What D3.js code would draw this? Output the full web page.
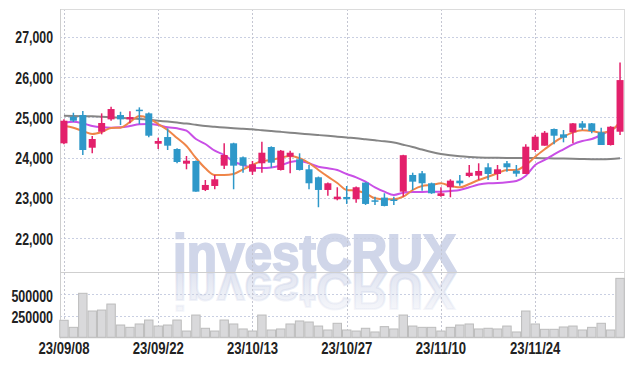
<!DOCTYPE html>
<html>
<head>
<meta charset="utf-8">
<script src="https://cdn.jsdelivr.net/npm/d3@7"></script>
<style>
body { margin: 0; background: #fff; }
svg text { font-family: "Liberation Sans", Arial, sans-serif; font-weight: bold; fill: #222; }
</style>
</head>
<body>
<div class="chart"></div>
<script>
// trading days, 23/09/08 .. 23/12/07
var dates = ["23/09/08","23/09/11","23/09/12","23/09/13","23/09/14","23/09/15","23/09/18","23/09/19","23/09/20","23/09/21",
 "23/09/22","23/09/25","23/09/26","23/09/27","23/10/04","23/10/05","23/10/06","23/10/10","23/10/11","23/10/12",
 "23/10/13","23/10/16","23/10/17","23/10/18","23/10/19","23/10/20","23/10/23","23/10/24","23/10/25","23/10/26",
 "23/10/27","23/10/30","23/10/31","23/11/01","23/11/02","23/11/03","23/11/06","23/11/07","23/11/08","23/11/09",
 "23/11/10","23/11/13","23/11/14","23/11/15","23/11/16","23/11/17","23/11/20","23/11/21","23/11/22","23/11/23",
 "23/11/24","23/11/27","23/11/28","23/11/29","23/11/30","23/12/01","23/12/04","23/12/05","23/12/06","23/12/07"];

var opens  = [24355,25015,25057,24246,24643,24950,25057,24950,25190,25099,24345,24511,24214,23849,23916,23197,23296,23800,24355,24008,
              23651,23859,24263,23693,24023,23958,23710,23512,23197,22966,23023,22966,23379,22940,23007,22960,23155,23569,23611,23363,
              23048,23264,23428,23544,23552,23760,23594,23859,23676,23594,24189,24296,24710,24578,24628,24851,24851,24628,24313,24643];
var highs  = [24950,25114,25156,24536,25099,25263,25139,25149,25248,25120,24494,24727,24231,24040,23930,23445,23569,24355,24370,24030,
              23916,24395,24280,24190,24172,24107,23817,23530,23380,23264,23296,23280,23390,23031,23115,23031,24070,23626,23668,23380,
              23264,23462,23569,23817,23859,23859,23817,23916,23817,24330,24561,24660,24720,24685,24860,24908,24860,24742,24780,26364];
var lows   = [24330,24883,24065,24107,24578,24916,24809,24851,24830,24504,24214,24189,23859,23710,23155,23170,23214,23718,23214,23626,
              23569,23626,23750,23680,23611,23680,23214,22768,23056,22940,22850,22882,22825,22825,22790,22825,23031,23197,23180,23100,
              23031,23015,23300,23512,23445,23445,23445,23651,23527,23594,24147,24296,24330,24380,24355,24685,24603,24313,24300,24561];
var closes = [24916,24916,24189,24462,24859,25206,24950,25007,25170,24544,24412,24296,23891,23924,23155,23321,23462,24065,23800,23800,
              23834,24122,23874,24172,24122,23693,23363,23197,23363,23031,22966,23264,22850,22925,22800,22945,24060,23403,23363,23115,
              23115,23428,23363,23626,23668,23594,23710,23760,23601,24271,24519,24618,24544,24494,24851,24742,24660,24313,24767,25925];

var volume = [198000,116000,512000,306000,317000,387000,143000,116000,155000,201000,131000,143000,201000,73000,259000,105000,73000,201000,155000,97000,
              73000,259000,85000,97000,155000,190000,178000,131000,85000,163000,85000,73000,105000,62000,124000,97000,259000,131000,116000,116000,
              73000,116000,143000,155000,97000,105000,97000,131000,62000,306000,155000,93000,93000,120000,131000,85000,116000,163000,85000,686000];

// moving averages
var ma5  = [24784,24742,24660,24586,24635,24735,24742,24880,25032,24975,24834,24685,24486,24288,23990,23735,23569,23569,23593,23710,
            23817,23916,23941,23998,24040,23983,23866,23693,23527,23370,23196,23179,23114,22990,22966,22966,23030,23196,23296,23320,
            23362,23296,23263,23345,23444,23526,23611,23693,23693,23817,24022,24206,24380,24519,24628,24677,24660,24618,24660,24891];
var ma20 = [24866,24891,24851,24784,24752,24742,24752,24784,24826,24834,24809,24752,24727,24668,24462,24338,24171,24065,23903,23817,
            23750,23742,23755,23804,23891,23916,23859,23774,23735,23692,23593,23511,23402,23263,23154,23072,23129,23147,23147,23154,
            23154,23172,23196,23263,23330,23362,23369,23387,23419,23550,23817,23941,24082,24206,24330,24412,24462,24561,24685,24809];
var ma60 = [25040,25035,25030,25025,25015,25000,24990,24975,24960,24940,24916,24895,24870,24845,24815,24785,24765,24748,24730,24715,
            24702,24680,24660,24640,24620,24598,24580,24560,24540,24520,24499,24480,24455,24430,24405,24375,24320,24263,24200,24140,
            24090,24057,24032,24015,24003,23998,23995,23993,23992,23990,23990,23985,23980,23975,23970,23965,23962,23962,23968,23983];

var priceTicks = [22000,23000,24000,25000,26000,27000];
var volTicks = [250000,500000];
var dateTicks = [0,10,20,30,40,50];

var w = 634;
var h = 366;
var pLeft = 60, pRight = 624, pTop = 9, pMid = 272, pBottom = 337.3;
var upColor = "#e3206b", downColor = "#2e98c9";

var svg = d3.select(".chart").append("svg").attr("width", w).attr("height", h);

var x = d3.scaleLinear().domain([-0.42, dates.length - 0.58]).range([pLeft, pRight]);
var y = d3.scaleLinear().domain([21160, 27690]).range([pMid, pTop]);
var yv = d3.scaleLinear().domain([0, 760000]).range([pBottom, pMid]);
var step = x(1) - x(0);

// watermark + reflection
var defs = svg.append("defs");
var grad = defs.append("linearGradient").attr("id", "fade").attr("x1", 0).attr("y1", 0).attr("x2", 0).attr("y2", 1);
grad.append("stop").attr("offset", "0%").attr("stop-color", "#d0d6e9").attr("stop-opacity", 0.1);
grad.append("stop").attr("offset", "100%").attr("stop-color", "#d0d6e9").attr("stop-opacity", 0.75);
defs.append("clipPath").attr("id", "volclip").append("rect")
  .attr("x", pLeft).attr("y", pMid).attr("width", pRight - pLeft).attr("height", pBottom - pMid);

svg.append("text")
  .attr("x", 173).attr("y", pMid - 1)
  .attr("textLength", 283).attr("lengthAdjust", "spacingAndGlyphs")
  .style("font-size", "52px").style("fill", "#d0d6e9")
  .style("stroke", "#d0d6e9").style("stroke-width", "2px")
  .text("investCRUX");
svg.append("g").attr("clip-path", "url(#volclip)")
  .append("text")
  .attr("x", 173).attr("y", pMid - 1)
  .attr("transform", "translate(0," + (2 * pMid) + ") scale(1,-1)")
  .attr("textLength", 283).attr("lengthAdjust", "spacingAndGlyphs")
  .style("font-size", "52px").style("fill", "url(#fade)")
  .style("stroke", "url(#fade)").style("stroke-width", "2px")
  .text("investCRUX");

// grid
var grid = svg.append("g").attr("stroke-dasharray", "2,2").attr("stroke-width", 1);
grid.selectAll(".hy").data(priceTicks).enter().append("line")
  .attr("x1", pLeft).attr("x2", pRight)
  .attr("y1", function(d){ return Math.round(y(d)) + 0.5; })
  .attr("y2", function(d){ return Math.round(y(d)) + 0.5; })
  .attr("stroke", "#c9cfe2");
grid.selectAll(".hv").data(volTicks).enter().append("line")
  .attr("x1", pLeft).attr("x2", pRight)
  .attr("y1", function(d){ return Math.round(yv(d)) + 0.5; })
  .attr("y2", function(d){ return Math.round(yv(d)) + 0.5; })
  .attr("stroke", "#c9cfe2");
grid.selectAll(".vx").data(dateTicks).enter().append("line")
  .attr("x1", function(d){ return Math.round(x(d)) + 0.5; })
  .attr("x2", function(d){ return Math.round(x(d)) + 0.5; })
  .attr("y1", pTop).attr("y2", pBottom)
  .attr("stroke", "#c4c6d2");

// frame
svg.append("line").attr("x1", pLeft).attr("x2", pRight).attr("y1", pTop + 0.5).attr("y2", pTop + 0.5).attr("stroke", "#dcdcdc");
svg.append("line").attr("x1", pLeft).attr("x2", pRight).attr("y1", pMid + 0.5).attr("y2", pMid + 0.5).attr("stroke", "#cfcfcf");
svg.append("line").attr("x1", pLeft).attr("x2", pRight).attr("y1", pBottom + 0.5).attr("y2", pBottom + 0.5).attr("stroke", "#cfcfcf");
svg.append("line").attr("x1", pLeft + 0.5).attr("x2", pLeft + 0.5).attr("y1", pTop).attr("y2", pBottom + 1).attr("stroke", "#cfcfcf");
svg.append("line").attr("x1", pRight + 0.5).attr("x2", pRight + 0.5).attr("y1", pTop).attr("y2", pBottom + 1).attr("stroke", "#dcdcdc");

// volume bars
svg.selectAll(".vol").data(volume).enter().append("rect")
  .attr("x", function(d, i){ return x(i) - step / 2 + 0.5; })
  .attr("y", function(d){ return yv(d); })
  .attr("width", step - 1)
  .attr("height", function(d){ return pBottom - yv(d); })
  .attr("fill", "#d9d9db")
  .attr("stroke", "#bcbcbc")
  .attr("stroke-width", 1);

// moving average lines
var idx = d3.range(dates.length);
function maLine(arr) {
  return d3.line().x(function(i){ return x(i); }).y(function(i){ return y(arr[i]); }).curve(d3.curveMonotoneX)(idx);
}
svg.append("path").attr("d", maLine(ma60)).attr("fill", "none").attr("stroke", "#858585").attr("stroke-width", 2);
svg.append("path").attr("d", maLine(ma20)).attr("fill", "none").attr("stroke", "#c94fe6").attr("stroke-width", 2);
svg.append("path").attr("d", maLine(ma5)).attr("fill", "none").attr("stroke", "#ef8548").attr("stroke-width", 2);

// candles
var bodyW = 7;
var candles = svg.selectAll(".candle").data(idx).enter().append("g");
candles.append("line")
  .attr("x1", function(i){ return x(i); })
  .attr("x2", function(i){ return x(i); })
  .attr("y1", function(i){ return y(highs[i]); })
  .attr("y2", function(i){ return y(lows[i]); })
  .attr("stroke", function(i){ return closes[i] >= opens[i] ? upColor : downColor; })
  .attr("stroke-width", 1.5);
candles.append("rect")
  .attr("x", function(i){ return x(i) - bodyW / 2; })
  .attr("y", function(i){ return y(Math.max(opens[i], closes[i])); })
  .attr("width", bodyW)
  .attr("height", function(i){ return Math.max(1.5, Math.abs(y(opens[i]) - y(closes[i]))); })
  .attr("fill", function(i){ return closes[i] >= opens[i] ? upColor : downColor; });

// axis labels (squeezed horizontally, the original uses a condensed face)
svg.selectAll(".ylab").data(priceTicks).enter().append("text")
  .attr("transform", function(d){ return "translate(53," + (y(d) + 1) + ") scale(0.77,1)"; })
  .attr("text-anchor", "end").attr("dominant-baseline", "central")
  .style("font-size", "16px")
  .text(function(d){ return d3.format(",")(d); });
svg.selectAll(".vlab").data(volTicks).enter().append("text")
  .attr("transform", function(d){ return "translate(53," + (yv(d) + 2) + ") scale(0.78,1)"; })
  .attr("text-anchor", "end").attr("dominant-baseline", "central")
  .style("font-size", "16px")
  .text(function(d){ return d; });
svg.selectAll(".xlab").data(dateTicks).enter().append("text")
  .attr("transform", function(d){ return "translate(" + x(d) + ",354) scale(0.82,1)"; })
  .attr("text-anchor", "middle")
  .style("font-size", "16px")
  .text(function(d){ return dates[d]; });
</script>
</body>
</html>
